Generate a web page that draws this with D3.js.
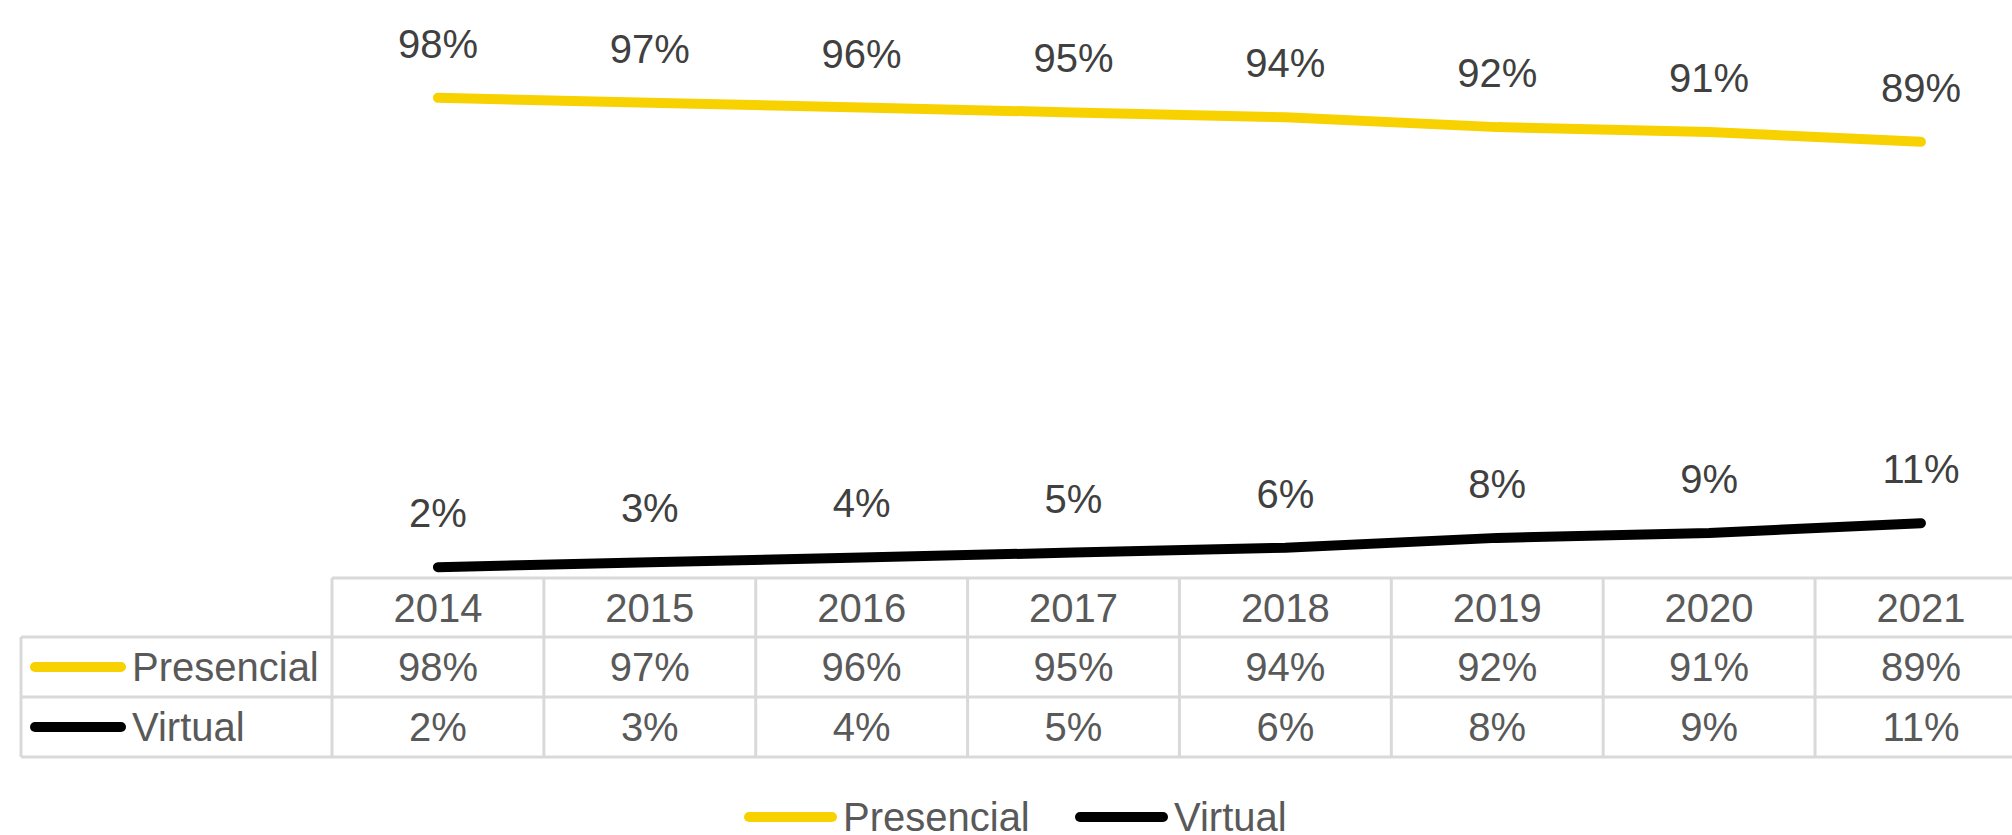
<!DOCTYPE html>
<html>
<head>
<meta charset="utf-8">
<script src="https://cdn.jsdelivr.net/npm/d3@7"></script>
<style>
  body { margin: 0; background: #fff; }
  svg text { font-family: "Liberation Sans", Arial, sans-serif; }
</style>
</head>
<body>
<svg id="chart" width="2012" height="835"></svg>
<script>
// data
var years = ['2014', '2015', '2016', '2017', '2018', '2019', '2020', '2021'];
var presencial = [98, 97, 96, 95, 94, 92, 91, 89];
var virtual = [2, 3, 4, 5, 6, 8, 9, 11];
var seriesNames = ['Presencial', 'Virtual'];
var seriesColors = ['#F8D200', '#000000'];

var svg = d3.select('#chart');

var fontSize = 40;
var rowY = [578, 637, 697, 757],
    tableLeft = 21;

var x = d3.scaleBand()
    .domain(years)
    .range([332, 332 + 211.86 * years.length])
    .paddingInner(0).paddingOuter(0);

var y = d3.scaleLinear()
    .domain([0, 100])
    .range([577, 88]);

var cx = function(d) { return x(d) + x.bandwidth() / 2; };

var series = [presencial, virtual];

// lines
var line = d3.line()
    .x(function(d, i) { return cx(years[i]); })
    .y(function(d) { return y(d); });

svg.selectAll('path.series')
    .data(series)
  .enter().append('path')
    .attr('class', 'series')
    .attr('d', line)
    .attr('fill', 'none')
    .attr('stroke', function(d, i) { return seriesColors[i]; })
    .attr('stroke-width', 10)
    .attr('stroke-linecap', 'round')
    .attr('stroke-linejoin', 'round');

// data labels
series.forEach(function(vals, s) {
    svg.selectAll('text.lbl' + s)
        .data(vals)
      .enter().append('text')
        .attr('class', 'lbl' + s)
        .attr('x', function(d, i) { return cx(years[i]); })
        .attr('y', function(d) { return y(d) - 40; })
        .attr('text-anchor', 'middle')
        .attr('font-size', fontSize)
        .attr('fill', '#404040')
        .text(function(d) { return d + '%'; });
});

// data table grid
var grid = svg.append('g')
    .attr('stroke', '#D9D9D9')
    .attr('stroke-width', 3);
var right = x.range()[1];

grid.append('line').attr('x1', x.range()[0]).attr('x2', right)
    .attr('y1', rowY[0]).attr('y2', rowY[0]);
rowY.slice(1).forEach(function(ry) {
    grid.append('line').attr('x1', tableLeft).attr('x2', right)
        .attr('y1', ry).attr('y2', ry);
});
grid.append('line').attr('x1', tableLeft).attr('x2', tableLeft)
    .attr('y1', rowY[1]).attr('y2', rowY[3]);
years.concat(['end']).forEach(function(yr, i) {
    var xx = i < years.length ? x(yr) : right;
    grid.append('line').attr('x1', xx).attr('x2', xx)
        .attr('y1', rowY[0]).attr('y2', rowY[3]);
});

// table text
var capMid = fontSize * 0.716 / 2;
svg.selectAll('text.year')
    .data(years)
  .enter().append('text')
    .attr('class', 'year')
    .attr('x', cx)
    .attr('y', (rowY[0] + rowY[1]) / 2 + capMid)
    .attr('text-anchor', 'middle')
    .attr('font-size', fontSize)
    .attr('fill', '#595959')
    .text(function(d) { return d; });

series.forEach(function(vals, s) {
    var midY = (rowY[s + 1] + rowY[s + 2]) / 2;
    svg.selectAll('text.cell' + s)
        .data(vals)
      .enter().append('text')
        .attr('class', 'cell' + s)
        .attr('x', function(d, i) { return cx(years[i]); })
        .attr('y', midY + capMid)
        .attr('text-anchor', 'middle')
        .attr('font-size', fontSize)
        .attr('fill', '#595959')
        .text(function(d) { return d + '%'; });

    svg.append('line')
        .attr('x1', 35).attr('x2', 121)
        .attr('y1', midY).attr('y2', midY)
        .attr('stroke', seriesColors[s])
        .attr('stroke-width', 10)
        .attr('stroke-linecap', 'round');
    svg.append('text')
        .attr('x', 132)
        .attr('y', midY + capMid)
        .attr('font-size', fontSize)
        .attr('fill', '#595959')
        .text(seriesNames[s]);
});

// legend
var legendX = [749, 1080];
seriesNames.forEach(function(name, s) {
    var g = svg.append('g').attr('transform', 'translate(' + legendX[s] + ',817)');
    g.append('line')
        .attr('x1', 0).attr('x2', 83)
        .attr('stroke', seriesColors[s])
        .attr('stroke-width', 10)
        .attr('stroke-linecap', 'round');
    g.append('text')
        .attr('x', 94)
        .attr('y', capMid)
        .attr('font-size', fontSize)
        .attr('fill', '#595959')
        .text(name);
});
</script>
</body>
</html>
